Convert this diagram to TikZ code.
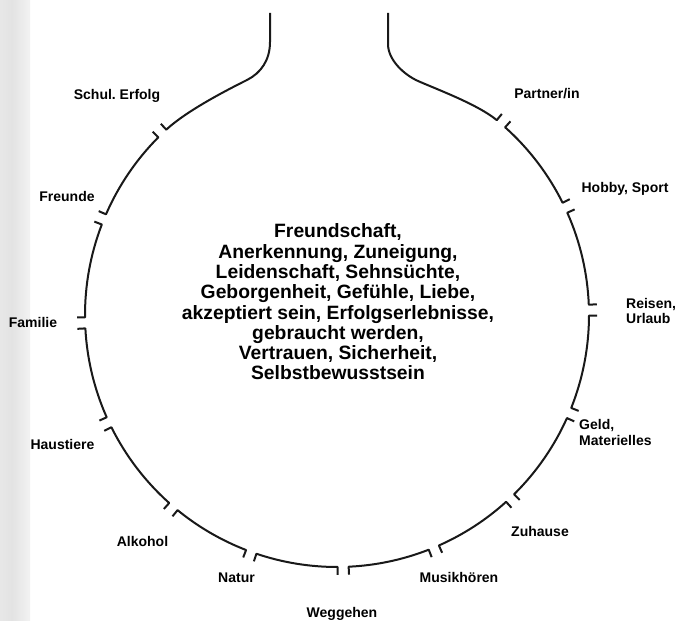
\documentclass[tikz,border=0pt]{standalone}
\usepackage{fontspec}
\setmainfont{Liberation Sans}
\frenchspacing
\pgfdeclarehorizontalshading{band}{100bp}{color(0bp)=(black!7); color(45bp)=(black!11); color(100bp)=(white)}
\begin{document}
\begin{tikzpicture}[x=1pt,y=1pt,
  ring/.style={line width=2pt, draw=black!90, line join=round},
  lbl/.style={font=\bfseries\fontsize{14}{15.5}\selectfont, inner sep=0pt},
  core/.style={font=\bfseries\fontsize{19.3}{20.3}\selectfont, align=center, inner sep=0pt}]
\useasboundingbox (0,0) rectangle (676,620);
\fill[white] (0,0) rectangle (676,620);
\shade[shading=band] (0,0) rectangle (30,620);
\coordinate (C) at (337,305);
\newcommand\ringseg[2]{\draw[ring] ([shift={(C)}]#1:260) -- ([shift={(C)}]#1:252) arc[start angle=#1, end angle=#2, radius=252] -- ([shift={(C)}]#2:260);}
\ringseg{48.15}{26.45}
\ringseg{23.95}{2.35}
\ringseg{-0.15}{-21.65}
\ringseg{-24.15}{-45.35}
\ringseg{-47.85}{-66.15}
\ringseg{-68.65}{-87.35}
\ringseg{-89.85}{-108.65}
\ringseg{-111.15}{-129.25}
\ringseg{-131.75}{-153.55}
\ringseg{-156.05}{-176.95}
\ringseg{-179.45}{-201.05}
\ringseg{-203.55}{-224.85}
% neck
\coordinate (NL) at ([shift={(C)}]132.65:252);
\coordinate (NR) at ([shift={(C)}]50.65:252);
\coordinate (NLtop) at (270,607);
\coordinate (NRtop) at (388,607);
\draw[ring] ([shift={(C)}]132.65:260) -- (NL)
  .. controls (186.9,509.4) and (227,530) .. (247,540)
  .. controls (261,547) and (270,560) .. (270,578) -- (NLtop);
\draw[ring] ([shift={(C)}]50.65:260) -- (NR)
  .. controls (477.6,515.7) and (436,531) .. (418,539)
  .. controls (404,545.3) and (388,560) .. (388,576) -- (NRtop);
% labels
\node[lbl, anchor=base] (schul) at (117,520) {Schul. Erfolg};
\node[lbl, anchor=base] (freunde) at (67,418) {Freunde};
\node[lbl, anchor=base] (familie) at (33,292) {Familie};
\node[lbl, anchor=base] (haustiere) at (62.5,170) {Haustiere};
\node[lbl, anchor=base] (alkohol) at (142.5,73) {Alkohol};
\node[lbl, anchor=base] (natur) at (236.5,37) {Natur};
\node[lbl, anchor=base] (weggehen) at (342,2) {Weggehen};
\node[lbl, anchor=base] (musik) at (459,37) {Musikhören};
\node[lbl, anchor=base] (zuhause) at (540,83) {Zuhause};
\node[lbl, anchor=west, align=left] (geld) at (579,187.5) {Geld,\\Materielles};
\node[lbl, anchor=west, align=left] (reisen) at (626,309) {Reisen,\\Urlaub};
\node[lbl, anchor=base] (hobby) at (625,427) {Hobby, Sport};
\node[lbl, anchor=base] (partner) at (547,521) {Partner/in};
\node[core] (mitte) at (338,318) {Freundschaft,\\Anerkennung, Zuneigung,\\Leidenschaft, Sehnsüchte,\\Geborgenheit, Gefühle, Liebe,\\akzeptiert sein, Erfolgserlebnisse,\\gebraucht werden,\\Vertrauen, Sicherheit,\\Selbstbewusstsein};
\end{tikzpicture}
\end{document}
